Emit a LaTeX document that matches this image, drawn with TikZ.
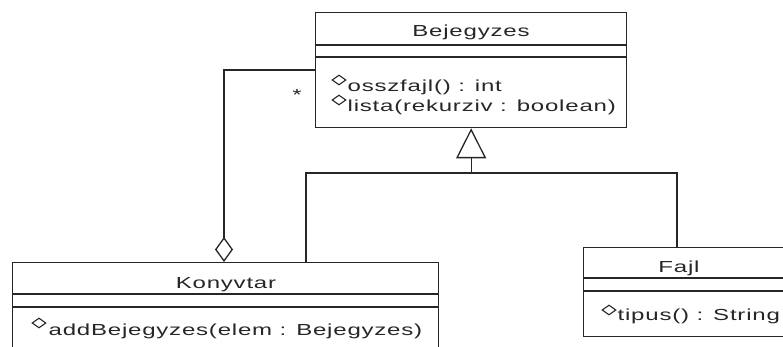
\documentclass[tikz,border=0pt]{standalone}
\usepackage{fontspec}
\setmainfont{Liberation Sans}[FakeStretch=1.5,LetterSpace=5]
\usetikzlibrary{arrows.meta,shapes.geometric}

\begin{document}
\begin{tikzpicture}[x=1pt, y=-1pt, line width=1.3pt, draw=black!85,
  every node/.style={font=\fontsize{16}{20}\selectfont, text=black!85},
  classbox/.style={draw, rectangle, inner sep=0pt, anchor=north west},
  opmark/.style={draw, diamond, line width=1.1pt, inner sep=0pt, minimum width=14pt, minimum height=10pt},
  optext/.style={anchor=base west, inner sep=0pt},
  classname/.style={anchor=base, inner sep=0pt}]
  \useasboundingbox (0,0) rectangle (783,347);
  \clip (0,0) rectangle (783,347);
  % Boxes
  \node[classbox, minimum width=311pt, minimum height=115pt] (bejegyzes) at (315,12) {};
  \node[classbox, minimum width=426pt, minimum height=110pt] (konyvtar) at (12,262) {};
  \node[classbox, minimum width=212pt, minimum height=89pt] (fajl) at (583,247) {};
  % Compartments
  \draw (315,45) -- (626,45); \draw (315,57) -- (626,57);
  \draw (12,294) -- (438,294); \draw (12,307) -- (438,307);
  \draw (583,278) -- (795,278); \draw (583,291) -- (795,291);
  % Labels
  \node[classname] (bejname) at (471,37) {Bejegyzes};
  \node[opmark] (bop1) at (339,80) {};
  \node[optext] (bop1t) at (347,92) {osszfajl() : int};
  \node[opmark] (bop2) at (339,100) {};
  \node[optext] (bop2t) at (347,112) {lista(rekurziv : boolean)};
  \node[classname] (konyvname) at (226,288) {Konyvtar};
  \node[opmark] (kop1) at (39,323) {};
  \node[optext] (kop1t) at (48,335) {addBejegyzes(elem : Bejegyzes)};
  \node[classname] (fajlname) at (679,272) {Fajl};
  \node[opmark] (fop1) at (609,310) {};
  \node[optext] (fop1t) at (617,320) {tipus() : String};
  \node (mult) at (297,95) {*};
  % Connectors
  \coordinate (gen) at (bejegyzes.south |- 0,173);
  \draw[-{Triangle[open,length=30pt,width=30pt]}] (gen) -- (bejegyzes.south);
  \draw ([xshift=294pt]konyvtar.north west) |- (gen) -| ([xshift=94pt]fajl.north west);
  \draw[{Diamond[open,length=25pt,width=18pt]}-] ([xshift=212pt]konyvtar.north west) |- ([yshift=-58pt]bejegyzes.north west);
\end{tikzpicture}
\end{document}
